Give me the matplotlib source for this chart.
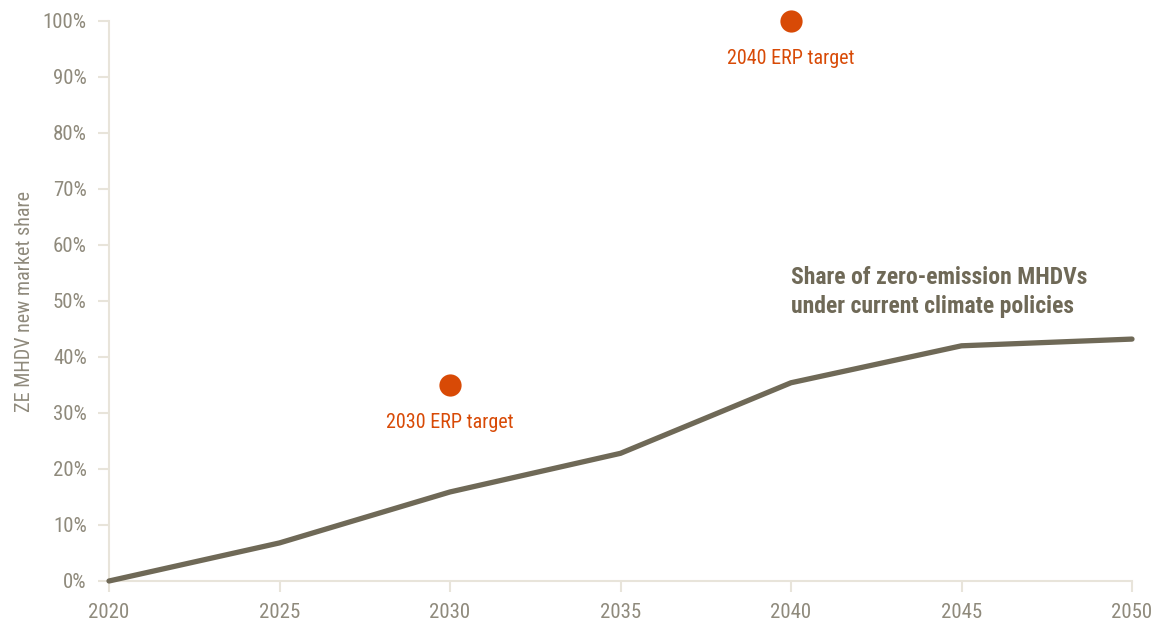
import matplotlib
matplotlib.use("Agg")
import matplotlib.pyplot as plt
from matplotlib.ticker import PercentFormatter
from matplotlib import font_manager

years = [2020, 2025, 2030, 2035, 2040, 2045, 2050]
share = [0.0, 6.8, 15.9, 22.8, 35.4, 42.0, 43.2]
target_years = [2030, 2040]
target_values = [35, 100]
target_labels = ["2030 ERP target", "2040 ERP target"]
x_ticks = [2020, 2025, 2030, 2035, 2040, 2045, 2050]
y_ticks = [0, 10, 20, 30, 40, 50, 60, 70, 80, 90, 100]

names = {f.name for f in font_manager.fontManager.ttflist}
fams = [f for f in ["Liberation Sans Narrow", "Roboto Condensed", "Open Sans Condensed", "Liberation Sans"] if f in names]
plt.rcParams['font.family'] = fams + ['DejaVu Sans']

line_c = "#6f6957"
orange = "#d84a06"
grid_c = "#e8e4da"
tick_c = "#8f8a7c"

fig = plt.figure(figsize=(11.53, 6.26), dpi=100)
ax = fig.add_axes([109/1153, 1-581/626, (1132-109)/1153, (581-21)/626])
ax.plot(years, share, color=line_c, lw=3.8, solid_capstyle='round', clip_on=False, zorder=3)
ax.plot(target_years, target_values, 'o', color=orange, ms=16, mec='none', clip_on=False, zorder=4)
for x, y, t in zip(target_years, target_values, target_labels):
    ax.annotate(t, (x, y), xytext=(0, -27), textcoords='offset points', ha='center', va='center',
                color=orange, fontsize=14.5)

ax.text(2040.0, 51.6, "Share of zero-emission MHDVs\nunder current climate policies", color=line_c,
        fontsize=17, fontweight='bold', ha='left', va='center', linespacing=1.3)

ax.set_xlim(2020, 2050)
ax.set_ylim(0, 100)
ax.set_xticks(x_ticks)
ax.set_yticks(y_ticks)
ax.yaxis.set_major_formatter(PercentFormatter(100, decimals=0))
for s in ['top', 'right']:
    ax.spines[s].set_visible(False)
for s in ['left', 'bottom']:
    ax.spines[s].set_color(grid_c)
    ax.spines[s].set_linewidth(1.5)
ax.tick_params(axis='both', colors=grid_c, width=1.5, length=8, labelcolor=tick_c, labelsize=15)
ax.tick_params(axis='y', pad=8)
ax.tick_params(axis='x', pad=8)
ax.set_ylabel("ZE MHDV new market share", color=tick_c, fontsize=14.5, labelpad=6)
fig.savefig("out.png", dpi=100)
